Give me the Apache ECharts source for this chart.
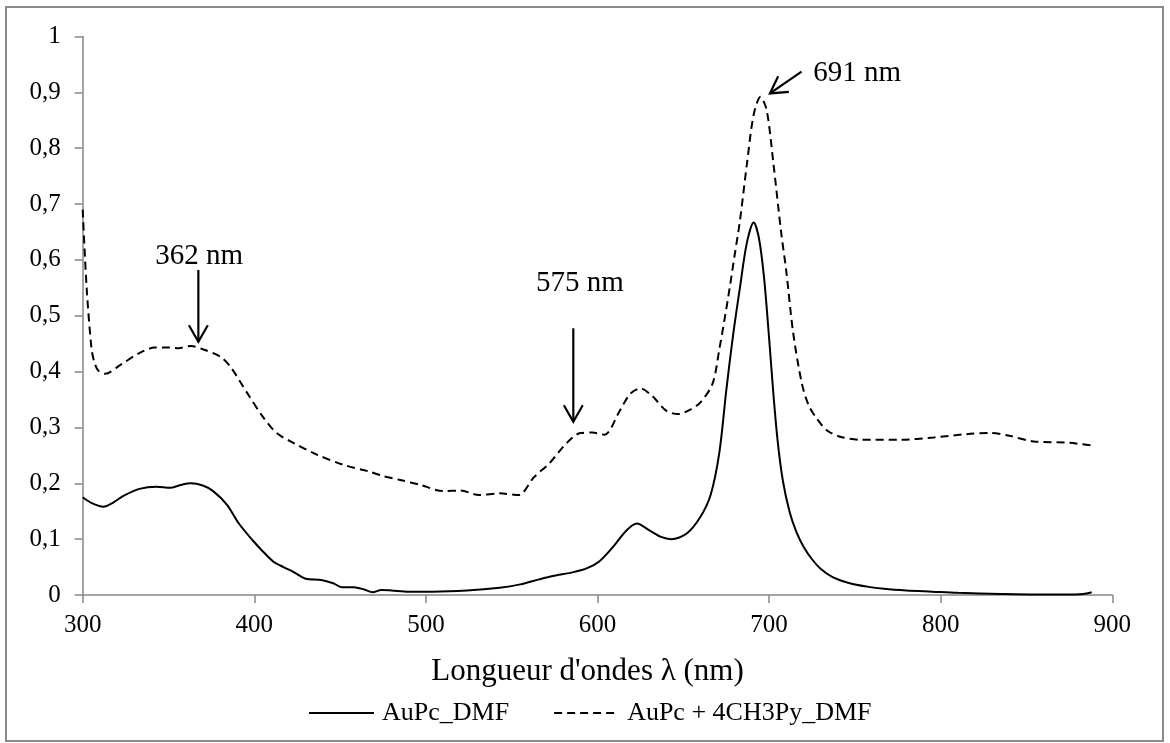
<!DOCTYPE html>
<html>
<head>
<meta charset="utf-8">
<script src="https://cdn.jsdelivr.net/npm/echarts@6/dist/echarts.min.js"></script>
<style>
html,body{margin:0;padding:0;background:#fff;}
#chart{width:1170px;height:743px;}
</style>
</head>
<body>
<div id="chart"></div>
<script>
// ---- Data ----
const seriesNames = ['AuPc_DMF', 'AuPc + 4CH3Py_DMF'];
const xTicks = [300, 400, 500, 600, 700, 800, 900];
const yTicks = [0, 0.1, 0.2, 0.3, 0.4, 0.5, 0.6, 0.7, 0.8, 0.9, 1];

const aupcDMF = [
  [300,0.175],[305,0.165],[312,0.158],[318,0.166],[324,0.178],[333,0.190],[343,0.194],[351,0.192],
  [357,0.197],[363,0.200],[370,0.196],[376,0.186],[384,0.162],[391,0.128],[399,0.098],[405,0.078],
  [411,0.060],[417,0.050],[423,0.041],[430,0.029],[439,0.027],[446,0.021],[451,0.014],[458,0.014],
  [464,0.010],[469,0.005],[474,0.009],[480,0.008],[490,0.006],[504,0.006],[524,0.008],[543,0.013],
  [555,0.019],[566,0.028],[574,0.034],[586,0.041],[594,0.048],[601,0.060],[609,0.086],[617,0.116],
  [623,0.128],[630,0.116],[637,0.104],[643,0.100],[652,0.110],[660,0.140],[666,0.180],[671,0.255],
  [675,0.365],[679,0.465],[683,0.55],[687,0.63],[691,0.667],[694,0.64],[697,0.57],[700,0.46],
  [702.5,0.36],[705,0.275],[708,0.205],[712,0.148],[716,0.112],[720,0.087],[725,0.064],[730,0.047],
  [737,0.032],[747,0.021],[757,0.015],[767,0.011],[780,0.008],[795,0.006],[810,0.004],[835,0.002],
  [855,0.001],[873,0.001],[883,0.002],[888,0.005]
];

const aupc4CH3Py = [
  [300,0.69],[302.3,0.55],[305,0.445],[306.5,0.42],[309,0.402],[313,0.396],[322,0.412],[333,0.433],
  [342,0.443],[350,0.443],[356,0.442],[363,0.446],[370,0.440],[380,0.427],[386,0.409],[396,0.361],
  [405,0.319],[413,0.290],[423,0.272],[436,0.252],[452,0.233],[467,0.221],[475,0.213],[485,0.206],
  [497,0.197],[510,0.186],[520,0.187],[531,0.179],[543,0.182],[554,0.179],[563,0.211],[572,0.236],
  [582,0.272],[590,0.290],[597,0.291],[604,0.287],[613,0.330],[619,0.360],[625,0.370],[632,0.356],
  [640,0.330],[647,0.324],[654,0.332],[660,0.345],[667,0.378],[671,0.44],[676,0.53],[680,0.61],
  [683,0.67],[687,0.77],[691,0.86],[695,0.892],[698.6,0.868],[702.5,0.773],[707,0.65],[710,0.58],
  [714,0.47],[719,0.38],[723,0.34],[728,0.315],[734,0.294],[742,0.283],[753,0.278],[776,0.278],
  [796,0.282],[815,0.288],[829,0.290],[840,0.285],[854,0.275],[873,0.273],[890,0.267]
];

// annotations: label text, label anchor (data coords), arrow tail, arrow tip (data coords)
const annLabels = ['362 nm', '575 nm', '691 nm'];
const annLabelPos = [[367.9, 0.606], [589.8, 0.558], [725.8, 0.934]];
const annArrowFrom = [[367.4, 0.582], [585.9, 0.4775], [718.9, 0.937]];
const annArrowTo = [[367.4, 0.4535], [585.9, 0.3103], [700.5, 0.898]];
const annAlign = ['center', 'center', 'left'];

// ---- Chart ----
const FONT = '"Liberation Serif", "Times New Roman", serif';
const chart = echarts.init(document.getElementById('chart'), null, {renderer: 'canvas'});
const axisColor = '#868686';

const option = {
  animation: false,
  backgroundColor: '#ffffff',
  grid: {left: 82.7, right: 57.7, top: 36.5, bottom: 148, containLabel: false},
  legend: {
    data: seriesNames,
    left: 303,
    top: 695,
    itemWidth: 65,
    itemHeight: 26,
    itemGap: 44,
    itemStyle: {opacity: 0},
    textStyle: {fontFamily: FONT, fontSize: 26, color: '#000', padding: [0, 0, 0, 3]}
  },
  xAxis: {
    type: 'value',
    min: xTicks[0],
    max: xTicks[xTicks.length - 1],
    interval: 100,
    name: "Longueur d'ondes \u03bb (nm)",
    nameLocation: 'middle',
    nameGap: 61,
    nameTextStyle: {fontFamily: FONT, fontSize: 31, color: '#000', padding: [0, 20, 0, 0]},
    axisLine: {show: true, lineStyle: {color: axisColor, width: 1.5}},
    axisTick: {show: true, length: 8, lineStyle: {color: axisColor, width: 1.5}},
    axisLabel: {fontFamily: FONT, fontSize: 25, color: '#000', margin: 18},
    splitLine: {show: false}
  },
  yAxis: {
    type: 'value',
    min: yTicks[0],
    max: yTicks[yTicks.length - 1],
    interval: 0.1,
    axisLine: {show: true, lineStyle: {color: axisColor, width: 1.5}},
    axisTick: {show: true, length: 8, lineStyle: {color: axisColor, width: 1.5}},
    axisLabel: {
      fontFamily: FONT, fontSize: 25, color: '#000', margin: 22,
      formatter: v => String(+(+v).toFixed(1)).replace('.', ',')
    },
    splitLine: {show: false}
  },
  series: [
    {
      name: seriesNames[0], type: 'line', data: aupcDMF, showSymbol: false, symbol: 'none',
      smooth: 0.3, lineStyle: {color: '#000', width: 2, type: 'solid'}, itemStyle: {color: '#000'}
    },
    {
      name: seriesNames[1], type: 'line', data: aupc4CH3Py, showSymbol: false, symbol: 'none',
      smooth: 0.3, lineStyle: {color: '#000', width: 2, type: [8, 5]}, itemStyle: {color: '#000'}
    }
  ]
};
chart.setOption(option);

// build annotation graphics via the chart's own coordinate conversion
function px(p) { return chart.convertToPixel({gridIndex: 0}, p); }
const elements = [];
elements.push({
  type: 'rect', shape: {x: 6, y: 7, width: 1157, height: 734},
  style: {fill: 'none', stroke: '#8a8a8a', lineWidth: 2}, silent: true, z: 0
});
for (let i = 0; i < annLabels.length; i++) {
  const lp = px(annLabelPos[i]);
  elements.push({
    type: 'text', x: lp[0], y: lp[1],
    style: {text: annLabels[i], font: '29px ' + FONT, fill: '#000', align: annAlign[i], verticalAlign: 'middle'},
    z: 10
  });
  const a = px(annArrowFrom[i]), b = px(annArrowTo[i]);
  elements.push({
    type: 'line', shape: {x1: a[0], y1: a[1], x2: b[0], y2: b[1]},
    style: {stroke: '#000', lineWidth: 2.2}, z: 10
  });
  const ang = Math.atan2(b[1] - a[1], b[0] - a[0]);
  const L = 19, spread = 0.52;
  const w1 = [b[0] - L * Math.cos(ang - spread), b[1] - L * Math.sin(ang - spread)];
  const w2 = [b[0] - L * Math.cos(ang + spread), b[1] - L * Math.sin(ang + spread)];
  elements.push({
    type: 'polyline', shape: {points: [w1, b, w2]},
    style: {stroke: '#000', lineWidth: 2.2, fill: 'none'}, z: 10
  });
}
chart.setOption({graphic: {elements: elements}});
</script>
</body>
</html>
